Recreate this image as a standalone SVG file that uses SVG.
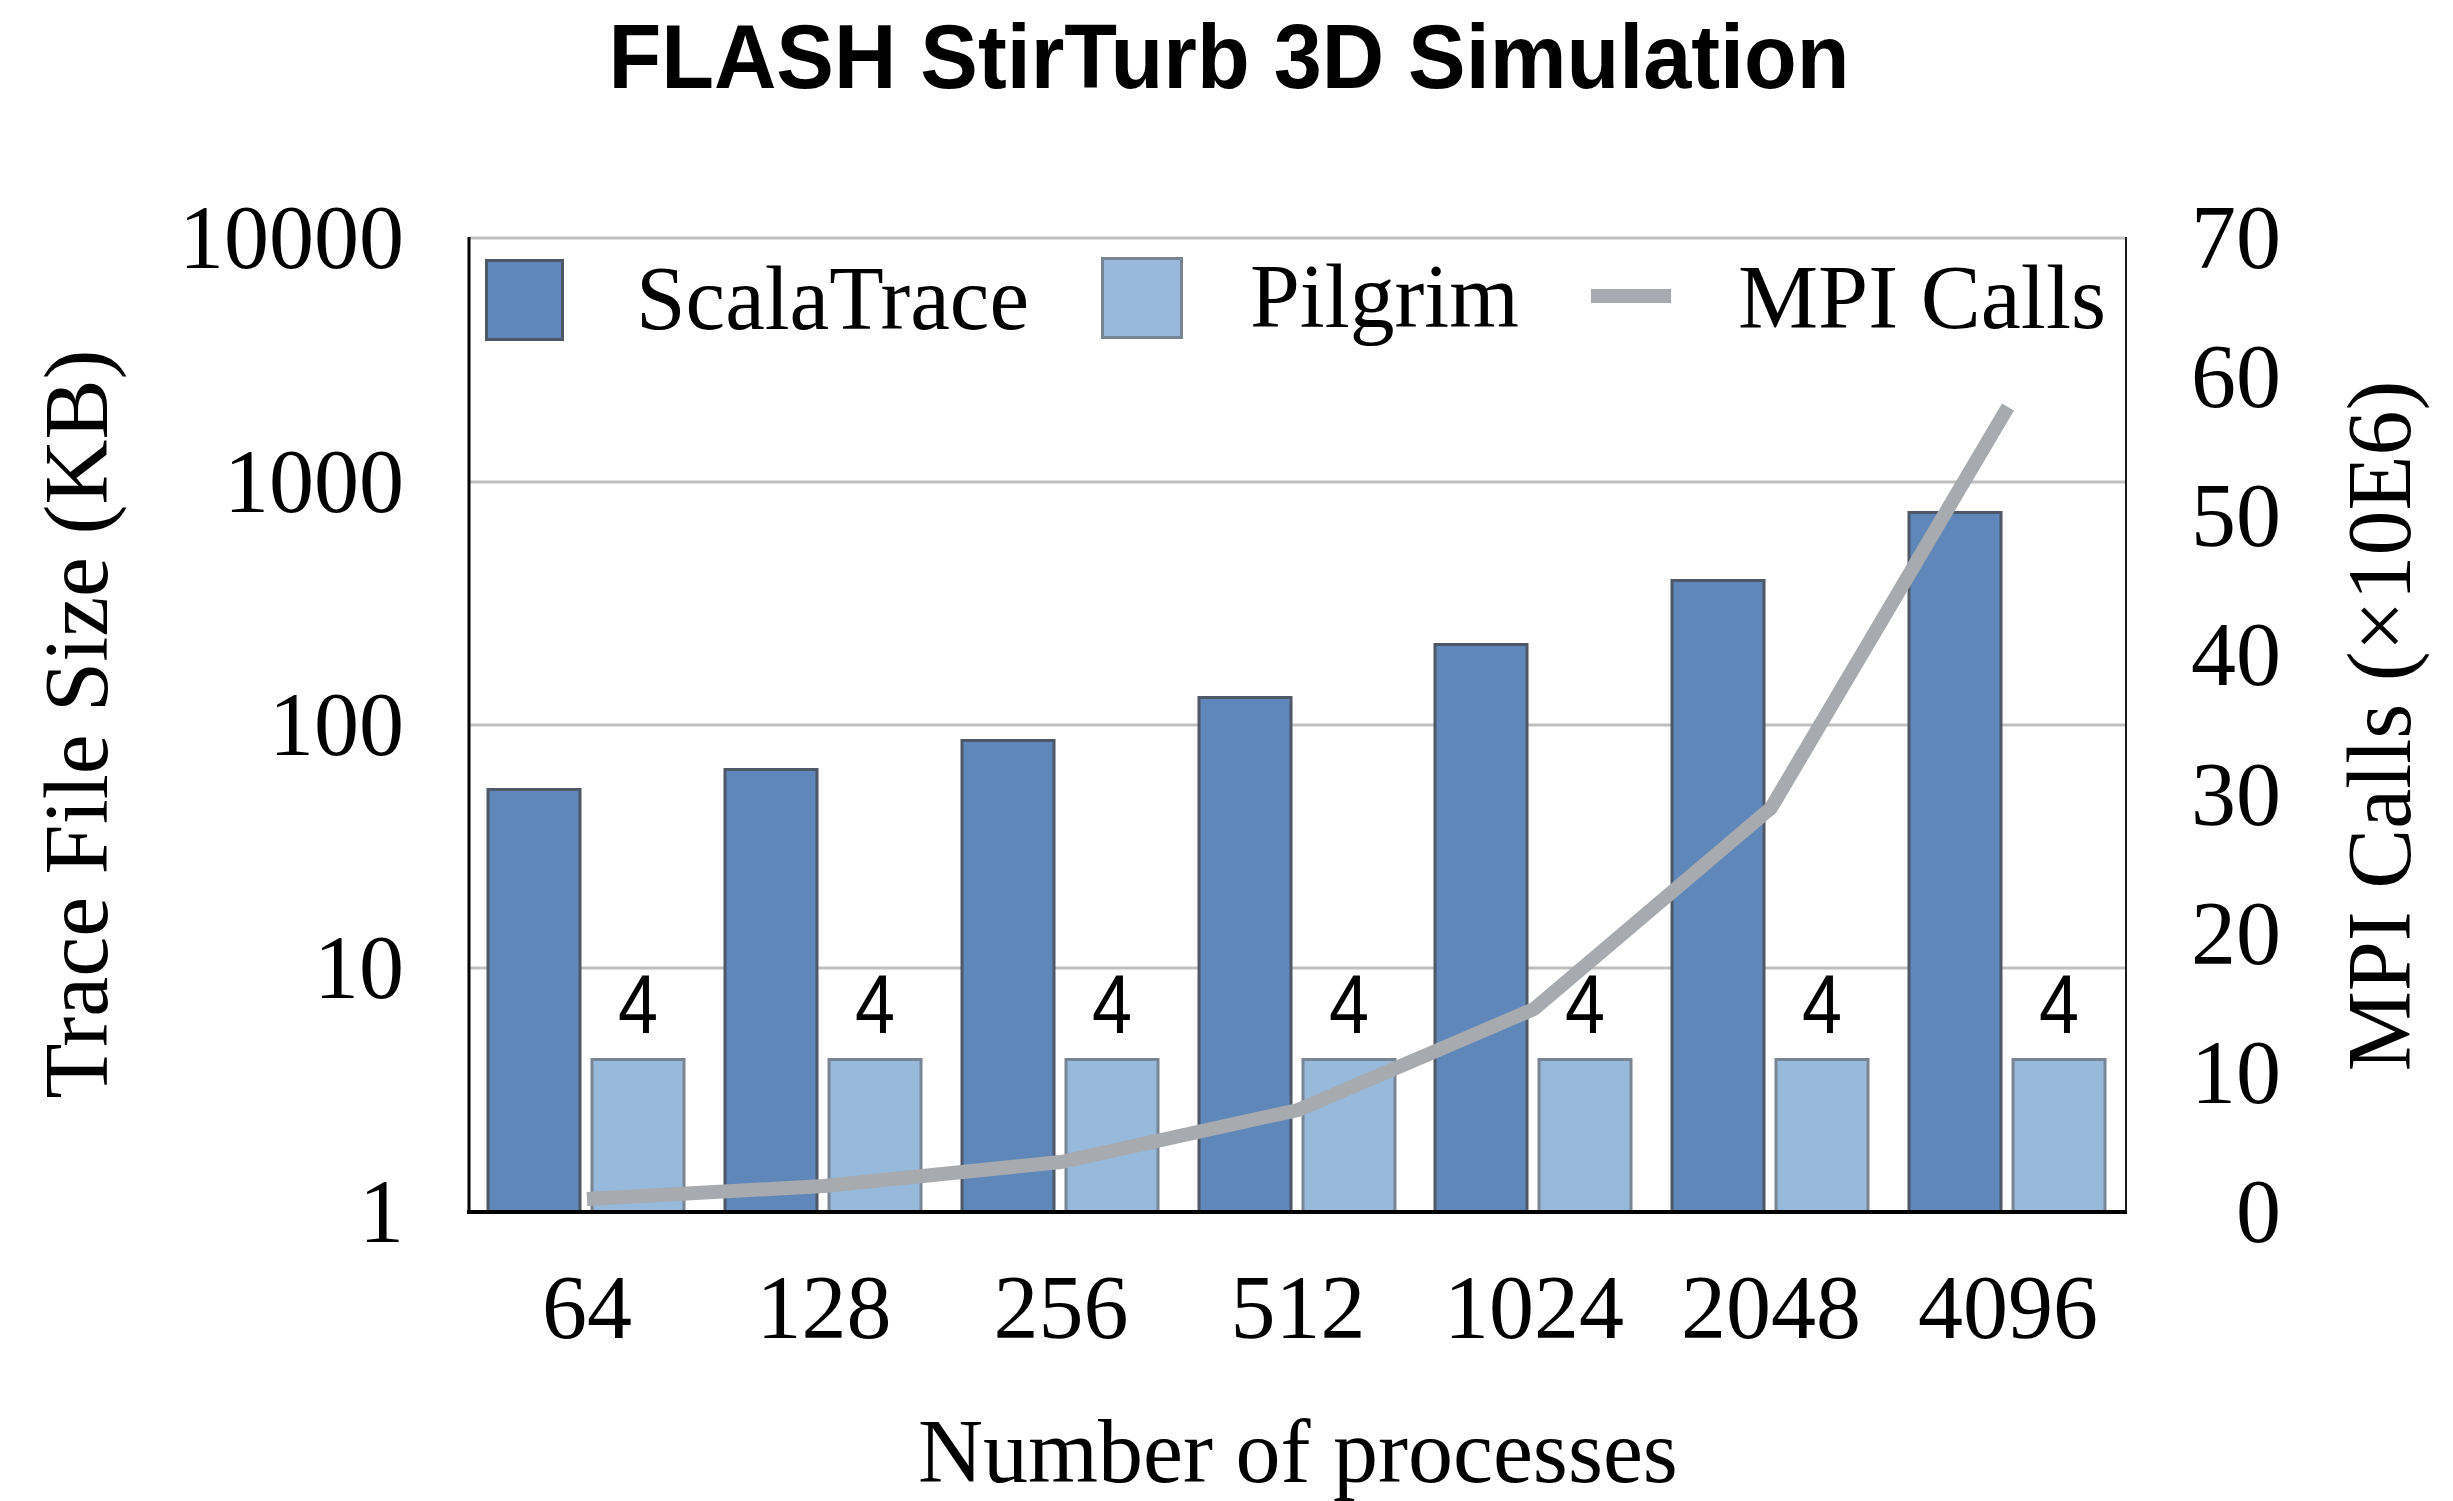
<svg xmlns="http://www.w3.org/2000/svg" width="2453" height="1501" viewBox="0 0 2453 1501">
<style>
.t{font-family:"Liberation Serif","Times New Roman",serif;font-size:90px;fill:#000}
.grid{stroke:#BFBFBF;stroke-width:3}
.dark{fill:#5F87B9;stroke:#4E5866;stroke-width:3}
.light{fill:#97B9DB;stroke:#7A8594;stroke-width:3}
.lbl{font-family:"Liberation Sans",Arial,sans-serif;font-size:84px;fill:#000;text-anchor:middle}
.mpi{fill:none;stroke:#A7AAAF;stroke-width:14;stroke-linejoin:miter}
</style>
<rect width="2453" height="1501" fill="#fff"/>
<text id="title" x="1229" y="88" text-anchor="middle" font-family="'Liberation Sans',Arial,sans-serif" font-weight="bold" font-size="90" textLength="1241" lengthAdjust="spacingAndGlyphs">FLASH StirTurb 3D Simulation</text>

<g id="gridlines">
<line class="grid" x1="469" y1="238" x2="2126" y2="238"/>
<line class="grid" x1="469" y1="482" x2="2126" y2="482"/>
<line class="grid" x1="469" y1="725" x2="2126" y2="725"/>
<line class="grid" x1="469" y1="968" x2="2126" y2="968"/>
</g>

<g id="scalatrace-bars">
<rect class="dark" x="488" y="789.5" width="92" height="422"/>
<rect class="dark" x="725" y="769.5" width="92" height="442"/>
<rect class="dark" x="962" y="740.5" width="92" height="471"/>
<rect class="dark" x="1199" y="697.5" width="92" height="514"/>
<rect class="dark" x="1435" y="644.5" width="92" height="567"/>
<rect class="dark" x="1672" y="580.5" width="92" height="631"/>
<rect class="dark" x="1909" y="512.5" width="92" height="699"/>
</g>

<g id="pilgrim-bars">
<rect class="light" x="592" y="1059.5" width="92" height="152"/>
<rect class="light" x="829" y="1059.5" width="92" height="152"/>
<rect class="light" x="1066" y="1059.5" width="92" height="152"/>
<rect class="light" x="1303" y="1059.5" width="92" height="152"/>
<rect class="light" x="1539" y="1059.5" width="92" height="152"/>
<rect class="light" x="1776" y="1059.5" width="92" height="152"/>
<rect class="light" x="2013" y="1059.5" width="92" height="152"/>
</g>

<g id="pilgrim-labels">
<text class="lbl" x="638" y="1033" textLength="40" lengthAdjust="spacingAndGlyphs">4</text>
<text class="lbl" x="875" y="1033" textLength="40" lengthAdjust="spacingAndGlyphs">4</text>
<text class="lbl" x="1112" y="1033" textLength="40" lengthAdjust="spacingAndGlyphs">4</text>
<text class="lbl" x="1349" y="1033" textLength="40" lengthAdjust="spacingAndGlyphs">4</text>
<text class="lbl" x="1585" y="1033" textLength="40" lengthAdjust="spacingAndGlyphs">4</text>
<text class="lbl" x="1822" y="1033" textLength="40" lengthAdjust="spacingAndGlyphs">4</text>
<text class="lbl" x="2059" y="1033" textLength="40" lengthAdjust="spacingAndGlyphs">4</text>
</g>

<g id="axes">
<line x1="469" y1="237" x2="469" y2="1214" stroke="#000" stroke-width="3"/>
<line x1="2126" y1="237" x2="2126" y2="1214" stroke="#1a1a1a" stroke-width="2"/>
<line x1="467" y1="1212" x2="2127" y2="1212" stroke="#000" stroke-width="4"/>
</g>

<g id="connectors">
<polyline id="mpi-line" class="mpi" points="587,1199 824,1186 1061,1162 1298,1110 1534,1009 1771,808 2008,407"/>
</g>

<g id="legend">
<rect class="dark" x="486.5" y="260.5" width="76" height="79"/>
<text class="t" x="636" y="329" textLength="393" lengthAdjust="spacingAndGlyphs">ScalaTrace</text>
<rect class="light" x="1102.5" y="258.5" width="79" height="79"/>
<text class="t" x="1250" y="327" textLength="269" lengthAdjust="spacingAndGlyphs">Pilgrim</text>
<line x1="1591" y1="296" x2="1671" y2="296" stroke="#A7AAAF" stroke-width="14"/>
<text class="t" x="1738" y="328" textLength="368" lengthAdjust="spacingAndGlyphs">MPI Calls</text>
</g>

<g id="left-ticks" class="t" text-anchor="end">
<text x="404" y="268">10000</text>
<text x="404" y="512">1000</text>
<text x="404" y="755">100</text>
<text x="404" y="998">10</text>
<text x="404" y="1242">1</text>
</g>

<g id="right-ticks" class="t" text-anchor="end">
<text x="2281" y="268">70</text>
<text x="2281" y="407">60</text>
<text x="2281" y="546">50</text>
<text x="2281" y="685">40</text>
<text x="2281" y="825">30</text>
<text x="2281" y="964">20</text>
<text x="2281" y="1103">10</text>
<text x="2281" y="1242">0</text>
</g>

<g id="x-ticks" class="t" text-anchor="middle">
<text x="587" y="1338">64</text>
<text x="824" y="1338">128</text>
<text x="1061" y="1338">256</text>
<text x="1298" y="1338">512</text>
<text x="1534" y="1338">1024</text>
<text x="1771" y="1338">2048</text>
<text x="2008" y="1338">4096</text>
</g>

<text id="x-title" class="t" x="1298" y="1482" text-anchor="middle">Number of processes</text>
<text id="y-title" class="t" text-anchor="middle" transform="translate(107,724) rotate(-90)">Trace File Size (KB)</text>
<text id="y2-title" class="t" text-anchor="middle" transform="translate(2410,726) rotate(-90)">MPI Calls (×10E6)</text>
</svg>
